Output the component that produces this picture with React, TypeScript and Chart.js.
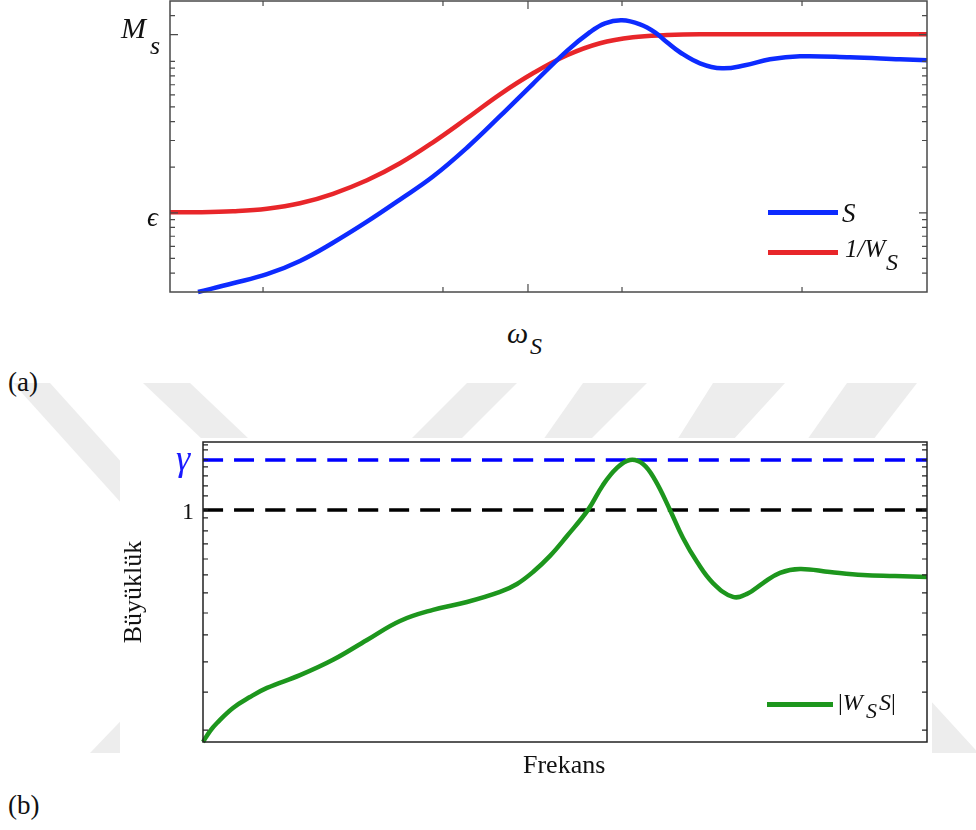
import React, { useEffect, useRef } from "react";
import { Chart, registerables } from "chart.js";

Chart.register(...registerables);

// ---------- (a) S and 1/W_S (log magnitude vs frequency, arbitrary x units 0..100) ----------
const sX = [3.7, 8.32, 12.81, 17.17, 21.53, 26.02, 30.38, 34.74, 39.23, 43.59, 47.95, 52.44, 55.48, 57.46, 59.71, 62.09, 64.07, 65.65, 67.37, 70.01, 72.92, 75.96, 79.26, 83.22, 89.83, 96.43, 100];
const sY = [0.03, 0.03425, 0.0393, 0.0481, 0.0634, 0.0873, 0.1222, 0.1734, 0.2688, 0.4339, 0.7106, 1.171, 1.557, 1.782, 1.865, 1.755, 1.554, 1.335, 1.147, 0.97, 0.899, 0.941, 1.031, 1.079, 1.063, 1.031, 1.015];
const wX = [0, 3.96, 8.32, 12.81, 17.17, 21.53, 26.02, 30.38, 34.74, 39.23, 43.59, 47.95, 52.44, 56.8, 61.16, 65.65, 70.01, 83.22, 100];
const wY = [0.1008, 0.1008, 0.1023, 0.1063, 0.1155, 0.1335, 0.1638, 0.2122, 0.2919, 0.4205, 0.6057, 0.8333, 1.0954, 1.3146, 1.4401, 1.489, 1.5075, 1.5075, 1.5075];
const topYMin = 0.03;
const topYMax = 2.5;
const topYMinorTicks = [2, 1, 0.9, 0.8, 0.7, 0.6, 0.5, 0.4, 0.3, 0.2, 0.09, 0.08, 0.07, 0.06, 0.05, 0.04];
const topYMajorTicks = [1.5, 0.1]; // M_s, epsilon
const topXMinorTicks = [12.29, 36.06, 59.71, 83.49];
const topXMajorTicks = [47.29];

// ---------- (b) |W_S S| ----------
const gX = [0, 0.97, 1.93, 4.14, 6.49, 8.84, 13.4, 17.96, 22.65, 27.21, 31.77, 36.46, 41.02, 43.37, 45.58, 47.93, 50.28, 53.18, 55.25, 57.18, 58.98, 60.77, 62.43, 64.5, 66.3, 68.23, 70.44, 73.2, 75.14, 77.35, 79.7, 82.46, 86.6, 91.16, 95.58, 100];
const gY = [0.1615, 0.176, 0.1875, 0.211, 0.23, 0.247, 0.273, 0.308, 0.36, 0.418, 0.456, 0.485, 0.525, 0.559, 0.614, 0.697, 0.815, 1.0, 1.217, 1.391, 1.481, 1.435, 1.266, 1.0, 0.802, 0.665, 0.563, 0.505, 0.517, 0.563, 0.61, 0.629, 0.614, 0.6, 0.595, 0.59];
const GAMMA = 1.481;
const ONE = 1;
const botYMin = 0.1615;
const botYMax = 1.705;
const botYTicks = [1.667, 1.603, 1.481, 1.402, 1.306, 1.207, 1.116, 1, 0.939, 0.848, 0.766, 0.68, 0.6, 0.521, 0.445, 0.3745, 0.303, 0.239, 0.1774];

const toPts = (xs: number[], ys: number[]) => xs.map((x, i) => ({ x, y: ys[i] }));

function framePlugin(id: string, color: string, yMinor: number[], yMajor: number[], xMinor: number[], xMajor: number[]) {
  return {
    id,
    afterDatasetsDraw(chart: any) {
      const { ctx, chartArea: a, scales } = chart;
      const xs = scales.x;
      const ys = scales.y;
      ctx.save();
      ctx.strokeStyle = color;
      ctx.lineWidth = 1.5;
      ctx.strokeRect(a.left, a.top, a.right - a.left, a.bottom - a.top);
      ctx.lineWidth = 1.2;
      const yt = (v: number, len: number) => {
        const p = ys.getPixelForValue(v);
        ctx.beginPath();
        ctx.moveTo(a.left, p);
        ctx.lineTo(a.left + len, p);
        ctx.moveTo(a.right, p);
        ctx.lineTo(a.right - len, p);
        ctx.stroke();
      };
      const xt = (v: number, len: number) => {
        const p = xs.getPixelForValue(v);
        ctx.beginPath();
        ctx.moveTo(p, a.bottom);
        ctx.lineTo(p, a.bottom - len);
        ctx.moveTo(p, a.top);
        ctx.lineTo(p, a.top + len);
        ctx.stroke();
      };
      yMinor.forEach((v) => yt(v, 5));
      yMajor.forEach((v) => yt(v, 8));
      xMinor.forEach((v) => xt(v, 5));
      xMajor.forEach((v) => xt(v, 8));
      ctx.restore();
    },
  };
}

const lineDs = (label: string, data: any[], color: string, width: number, dash: number[] = []) => ({
  label,
  data,
  borderColor: color,
  backgroundColor: color,
  borderWidth: width,
  borderDash: dash,
  pointRadius: 0,
  tension: 0.4,
  fill: false,
  clip: 3,
});

const serif = '"Liberation Serif", "DejaVu Serif", "Times New Roman", Times, serif';

const abs = (left: number, top: number, size: number, extra: any = {}) => ({
  position: "absolute" as const,
  left,
  top,
  fontSize: size,
  lineHeight: 1,
  fontFamily: serif,
  whiteSpace: "nowrap" as const,
  color: "#111",
  ...extra,
});

export default function App() {
  const topRef = useRef<HTMLCanvasElement>(null);
  const botRef = useRef<HTMLCanvasElement>(null);

  useEffect(() => {
    const c1 = new Chart(topRef.current!, {
      type: "line",
      data: {
        datasets: [
          lineDs("S", toPts(sX, sY), "#0d2bff", 4.5),
          lineDs("1/W_S", toPts(wX, wY), "#e8262a", 4.5),
        ],
      },
      options: {
        responsive: false,
        animation: false,
        layout: { padding: { left: 170, right: 49, top: 1, bottom: 8 } },
        plugins: { legend: { display: false }, tooltip: { enabled: false } },
        scales: {
          x: { type: "linear", min: 0, max: 100, display: false },
          y: { type: "logarithmic", min: topYMin, max: topYMax, display: false },
        },
      },
      plugins: [framePlugin("frameTop", "#4a4a4a", topYMinorTicks, topYMajorTicks, topXMinorTicks, topXMajorTicks)],
    } as any);

    const c2 = new Chart(botRef.current!, {
      type: "line",
      data: {
        datasets: [
          lineDs("|W_S S|", toPts(gX, gY), "#1d961d", 4.5),
          lineDs("γ", [{ x: 0, y: GAMMA }, { x: 100, y: GAMMA }], "#0000ff", 3.5, [20, 11]),
          lineDs("1", [{ x: 0, y: ONE }, { x: 100, y: ONE }], "#000000", 3.5, [20, 11]),
        ],
      },
      options: {
        responsive: false,
        animation: false,
        layout: { padding: { left: 203, right: 49, top: 22, bottom: 18 } },
        plugins: { legend: { display: false }, tooltip: { enabled: false } },
        scales: {
          x: { type: "linear", min: 0, max: 100, display: false },
          y: { type: "logarithmic", min: botYMin, max: botYMax, display: false },
        },
      },
      plugins: [framePlugin("frameBot", "#222222", botYTicks, [], [], [])],
    } as any);

    return () => {
      c1.destroy();
      c2.destroy();
    };
  }, []);

  const wm = "#ededed";
  return (
    <div style={{ position: "absolute", left: 0, top: 0, width: 976, height: 830, background: "#fff", overflow: "hidden", fontFamily: serif }}>
      <svg width={976} height={830} style={{ position: "absolute", left: 0, top: 0 }}>
        <polygon points="13,383 50,383 160,505 123,505" fill={wm} />
        <polygon points="143,383 190,383 250,440 203,440" fill={wm} />
        <polygon points="467,383 517,383 460,440 410,440" fill={wm} />
        <polygon points="583,383 647,383 590,440 543,440" fill={wm} />
        <polygon points="713,383 785,383 733,440 677,440" fill={wm} />
        <polygon points="847,383 917,383 873,440 807,440" fill={wm} />
        <polygon points="160,680 205,680 135,753 90,753" fill={wm} />
        <polygon points="820,640 875,640 985,760 930,760" fill={wm} />
        <rect x={0} y={753} width={976} height={77} fill="#fff" />
      </svg>
      <div style={{ position: "absolute", left: 120, top: 438, width: 812, height: 315, background: "#fff" }} />

      <canvas ref={topRef} width={976} height={300} style={{ position: "absolute", left: 0, top: 0 }} />
      <canvas ref={botRef} width={976} height={340} style={{ position: "absolute", left: 0, top: 420 }} />

      {/* (a) labels */}
      <span style={abs(121, 13, 30, { fontStyle: "italic" })}>M</span>
      <span style={abs(150, 33, 26, { fontStyle: "italic" })}>s</span>
      <span style={abs(147, 204, 27, { fontStyle: "italic" })}>ϵ</span>
      <span style={abs(507, 318, 30, { fontStyle: "italic" })}>ω</span>
      <span style={abs(530, 334, 24, { fontStyle: "italic" })}>S</span>
      <span style={abs(8, 369, 27)}>(a)</span>

      {/* (a) legend */}
      <div style={{ position: "absolute", left: 768, top: 210, width: 70, height: 4.5, background: "#0d2bff" }} />
      <div style={{ position: "absolute", left: 768, top: 250, width: 70, height: 4.5, background: "#e8262a" }} />
      <span style={abs(842, 200, 27, { fontStyle: "italic" })}>S</span>
      <span style={abs(845, 236, 25, { fontStyle: "italic" })}>1/W</span>
      <span style={abs(886, 250, 24, { fontStyle: "italic" })}>S</span>

      {/* (b) labels */}
      <span style={abs(176, 440, 36, { fontStyle: "italic", color: "#1a1aff" })}>γ</span>
      <span style={abs(182, 499, 24)}>1</span>
      <div
        style={{
          ...abs(133, 592, 26),
          width: 140,
          textAlign: "center",
          transform: "translate(-50%, -50%) rotate(-90deg)",
        }}
      >
        Büyüklük
      </div>
      <span style={abs(523, 752, 26)}>Frekans</span>
      <span style={abs(8, 792, 27)}>(b)</span>

      {/* (b) legend */}
      <div style={{ position: "absolute", left: 767, top: 702, width: 66, height: 4.5, background: "#1d961d" }} />
      <span style={abs(838, 690, 24)}>
        |<i>W</i>
      </span>
      <span style={abs(866, 700, 22, { fontStyle: "italic" })}>S</span>
      <span style={abs(879, 690, 24)}>
        <i>S</i>|
      </span>
    </div>
  );
}
